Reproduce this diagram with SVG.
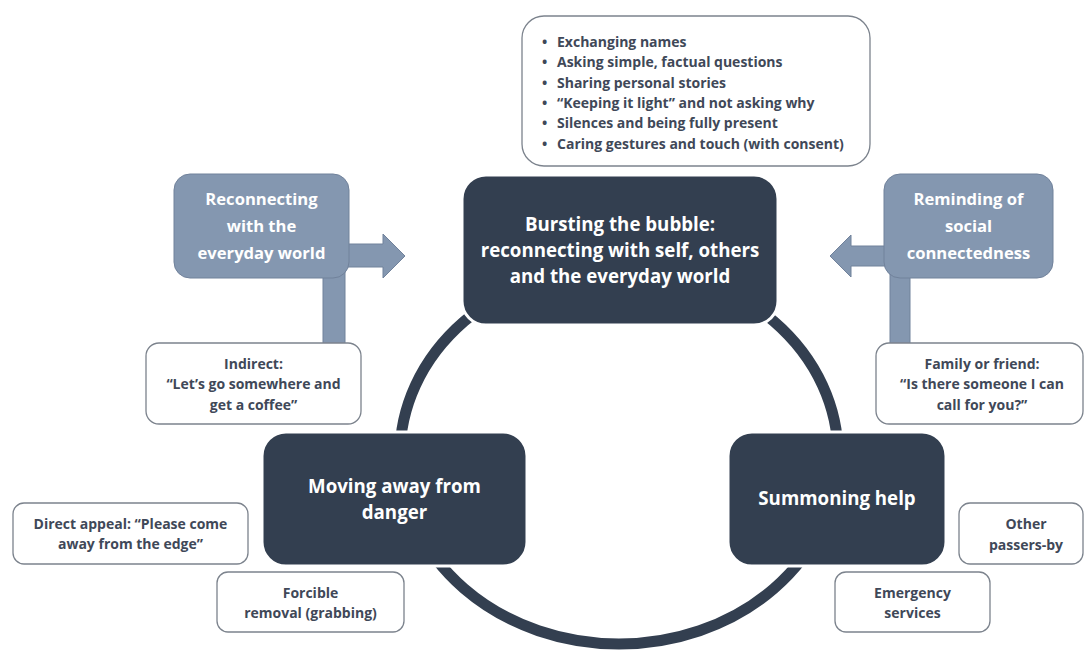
<svg xmlns="http://www.w3.org/2000/svg" width="1084" height="650" viewBox="0 0 1084 650">
<style>
text{font-family:"Open Sans","Liberation Sans",sans-serif;font-weight:bold;text-anchor:middle}
.dark rect{fill:#333f50;stroke:#ffffff;stroke-width:3}
.dark text{fill:#ffffff;font-size:18.7px}
.light rect,.light path{fill:#8497b0;stroke:#71829b;stroke-width:1}
.light text{fill:#ffffff;font-size:16.6px}
.note rect{fill:#ffffff;stroke:#7c838d;stroke-width:1.3}
.note text{fill:#404858;font-size:14px}
.note .l{text-anchor:start}
.ring{fill:none;stroke:#333f50;stroke-width:11}
</style>
<rect width="1084" height="650" fill="#ffffff"/>
<g id="connectors">
<ellipse class="ring" cx="619" cy="455" rx="219" ry="189"/>
</g>
<g id="tips" class="note">
<rect x="522" y="16" width="348" height="150" rx="22"/>
<text class="l" x="542" y="47">•</text><text class="l" x="557" y="47">Exchanging names</text>
<text class="l" x="542" y="67">•</text><text class="l" x="557" y="67">Asking simple, factual questions</text>
<text class="l" x="542" y="88">•</text><text class="l" x="557" y="88">Sharing personal stories</text>
<text class="l" x="542" y="108">•</text><text class="l" x="557" y="108">“Keeping it light” and not asking why</text>
<text class="l" x="542" y="128">•</text><text class="l" x="557" y="128">Silences and being fully present</text>
<text class="l" x="542" y="149">•</text><text class="l" x="557" y="149">Caring gestures and touch (with consent)</text>
</g>
<g id="bursting" class="dark">
<rect x="462" y="175" width="316" height="150" rx="24"/>
<text x="620" y="231">Bursting the bubble:</text>
<text x="620" y="257">reconnecting with self, others</text>
<text x="620" y="283">and the everyday world</text>
</g>
<g id="moving" class="dark">
<rect x="262" y="432" width="265" height="134" rx="24"/>
<text x="394.5" y="493">Moving away from</text>
<text x="394.5" y="519">danger</text>
</g>
<g id="summoning" class="dark">
<rect x="728" y="432" width="218" height="134" rx="24"/>
<text x="837" y="505">Summoning help</text>
</g>
<g id="reconnecting" class="light">
<path d="M323 270 H345 V344 H323 Z"/>
<path d="M340 244 H383 V234 L405 256 L383 278 V267 H340 Z"/>
<rect x="174" y="174" width="175" height="104" rx="16"/>
<text x="261.5" y="205">Reconnecting</text>
<text x="261.5" y="232">with the</text>
<text x="261.5" y="259">everyday world</text>
</g>
<g id="reminding" class="light">
<path d="M890 270 H910 V344 H890 Z"/>
<path d="M893 246 H851 V235 L830 256 L851 277 V266 H893 Z"/>
<rect x="884" y="174" width="169" height="104" rx="16"/>
<text x="968.5" y="205">Reminding of</text>
<text x="968.5" y="232">social</text>
<text x="968.5" y="259">connectedness</text>
</g>
<g id="indirect" class="note">
<rect x="146" y="343" width="215" height="81" rx="13"/>
<text x="253.5" y="369">Indirect:</text>
<text x="253.5" y="389">“Let’s go somewhere and</text>
<text x="253.5" y="410">get a coffee”</text>
</g>
<g id="family" class="note">
<rect x="876" y="343" width="207" height="81" rx="13"/>
<text x="982" y="369">Family or friend:</text>
<text x="982" y="389">“Is there someone I can</text>
<text x="982" y="410">call for you?”</text>
</g>
<g id="direct" class="note">
<rect x="13" y="503" width="235" height="61" rx="11"/>
<text x="130.5" y="529">Direct appeal: “Please come</text>
<text x="130.5" y="549">away from the edge”</text>
</g>
<g id="forcible" class="note">
<rect x="217" y="572" width="187" height="60" rx="11"/>
<text x="310.5" y="598">Forcible</text>
<text x="310.5" y="618">removal (grabbing)</text>
</g>
<g id="emergency" class="note">
<rect x="835" y="572" width="155" height="60" rx="11"/>
<text x="912.5" y="598">Emergency</text>
<text x="912.5" y="618">services</text>
</g>
<g id="passers" class="note">
<rect x="959" y="503" width="124" height="61" rx="11"/>
<text x="1026" y="529">Other</text>
<text x="1026" y="550">passers-by</text>
</g>
</svg>
